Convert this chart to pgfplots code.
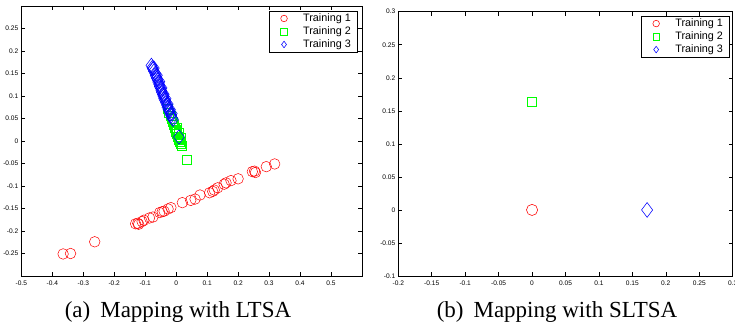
\documentclass[border=0pt]{standalone}
\usepackage{pgfplots}
\pgfplotsset{compat=1.18}
\usepackage{fontspec}
\setmainfont{Liberation Serif}
\newfontfamily\arialf{Liberation Sans}
\definecolor{mred}{rgb}{1,0,0}
\definecolor{mgreen}{rgb}{0,1,0}
\definecolor{mblue}{rgb}{0,0,1}
\pgfplotsset{
  mstyle/.style={
    scale only axis,
    axis line style={line width=0.9pt},
    tick style={line width=0.5pt, black},
    major tick length=4pt,
    tick align=inside,
    xtick pos=both, ytick pos=both,
    xticklabel pos=lower, yticklabel pos=left,
    tick label style={font=\arialf\fontsize{6.6}{7.5}\selectfont},
    xticklabel style={inner sep=0pt, yshift=-4.5pt},
    yticklabel style={inner sep=0pt, xshift=-2.8pt},
    /pgf/number format/assume math mode=true,
    legend cell align=left,
    legend style={font=\arialf\fontsize{10.8}{13}\selectfont, draw=black, line width=0.8pt,
      inner xsep=3pt, inner ysep=1pt, row sep=0pt,
      nodes={text height=8pt, text depth=2.5pt, inner ysep=1.25pt, inner xsep=3.7pt}},
    legend image code/.code={\path (0pt,0pt) (26pt,0pt); \draw[#1,mark size=3.3pt,line width=0.55pt] plot coordinates {(11pt,0pt)};},
    clip=false,
  }
}
\begin{document}
\begin{tikzpicture}[x=1pt,y=1pt]
\useasboundingbox (0,0) rectangle (735,324);
\begin{axis}[mstyle,
  at={(21.3pt,48pt)}, anchor=south west,
  width=340.7pt, height=270pt,
  xmin=-0.5, xmax=0.6, ymin=-0.3, ymax=0.3,
  xtick={-0.5,-0.4,...,0.51},
  ytick={-0.25,-0.2,...,0.26},
  xticklabels={-0.5,-0.4,-0.3,-0.2,-0.1,0,0.1,0.2,0.3,0.4,0.5},
  yticklabels={-0.25,-0.2,-0.15,-0.1,-0.05,0,0.05,0.1,0.15,0.2,0.25},
  legend style={at={(0.988,0.983)}, anchor=north east},
]
\addplot[only marks, mark=o, mark size=5.3pt, color=mred, line width=0.5pt] coordinates {
(-0.365,-0.251) (-0.341,-0.250) (-0.263,-0.224) (-0.131,-0.184) (-0.124,-0.183)
(-0.121,-0.185) (-0.110,-0.179) (-0.104,-0.176) (-0.086,-0.171) (-0.075,-0.169)
(-0.053,-0.159) (-0.045,-0.157) (-0.039,-0.156) (-0.026,-0.151) (-0.017,-0.148)
(0.020,-0.137) (0.047,-0.132) (0.061,-0.129) (0.077,-0.120) (0.108,-0.115)
(0.118,-0.112) (0.123,-0.109) (0.134,-0.104) (0.155,-0.096) (0.161,-0.093)
(0.177,-0.088) (0.200,-0.084) (0.246,-0.068) (0.253,-0.067) (0.256,-0.070)
(0.291,-0.057) (0.318,-0.051)
};
\addlegendentry{Training 1}
\addplot[only marks, mark=square, mark size=4.5pt, color=mgreen, line width=0.9pt] coordinates {
(-0.028,0.072) (-0.022,0.062) (-0.018,0.055) (-0.014,0.048) (-0.010,0.042)
(-0.007,0.036) (-0.004,0.030) (-0.002,0.025) (0.000,0.020) (0.003,0.015)
(0.005,0.010) (0.008,0.005) (0.010,0.002) (0.013,-0.002) (0.016,-0.006)
(0.018,-0.010) (0.004,0.028) (0.009,0.018) (0.014,0.006) (0.036,-0.042)
};
\addlegendentry{Training 2}
\addplot[only marks, mark=diamond, mark size=7.2pt, color=mblue, line width=0.55pt] coordinates {
(-0.080,0.168) (-0.077,0.163) (-0.075,0.160) (-0.072,0.155) (-0.068,0.150)
(-0.066,0.145) (-0.063,0.140) (-0.060,0.136) (-0.058,0.131) (-0.055,0.126)
(-0.053,0.121) (-0.050,0.117) (-0.048,0.112) (-0.046,0.108) (-0.043,0.103)
(-0.041,0.099) (-0.039,0.094) (-0.036,0.090) (-0.033,0.085) (-0.030,0.080)
(-0.028,0.075) (-0.025,0.070) (-0.022,0.065) (-0.019,0.060) (-0.016,0.056)
(-0.013,0.051) (-0.010,0.048) (-0.072,0.162) (-0.062,0.146) (-0.054,0.132)
(-0.047,0.118) (-0.040,0.104) (-0.034,0.094) (-0.027,0.082) (-0.020,0.070)
(-0.014,0.061) (0.009,0.009)
};
\addlegendentry{Training 3}
\end{axis}
\begin{axis}[mstyle,
  at={(398.3pt,48pt)}, anchor=south west,
  width=334.4pt, height=264.3pt,
  xmin=-0.2, xmax=0.3, ymin=-0.1, ymax=0.3,
  xtick={-0.2,-0.15,...,0.31},
  ytick={-0.1,-0.05,...,0.31},
  xticklabels={-0.2,-0.15,-0.1,-0.05,0,0.05,0.1,0.15,0.2,0.25,0.3},
  yticklabels={-0.1,-0.05,0,0.05,0.1,0.15,0.2,0.25,0.3},
  legend style={at={(0.992,0.985)}, anchor=north east},
]
\addplot[only marks, mark=o, mark size=5.6pt, color=mred, line width=0.55pt] coordinates {(0,0)};
\addlegendentry{Training 1}
\addplot[only marks, mark=square, mark size=4.6pt, color=mgreen, line width=0.9pt] coordinates {(0,0.164)};
\addlegendentry{Training 2}
\addplot[only marks, mark=diamond, mark size=7.4pt, color=mblue, line width=0.55pt] coordinates {(0.172,0)};
\addlegendentry{Training 3}
\end{axis}
\node[anchor=base, font=\fontsize{23}{26}\selectfont, inner sep=0pt] at (178,7) {(a)\hspace{10pt}Mapping with LTSA};
\node[anchor=base, font=\fontsize{23}{26}\selectfont, inner sep=0pt] at (557,7) {(b)\hspace{10pt}Mapping with SLTSA};
\end{tikzpicture}
\end{document}
